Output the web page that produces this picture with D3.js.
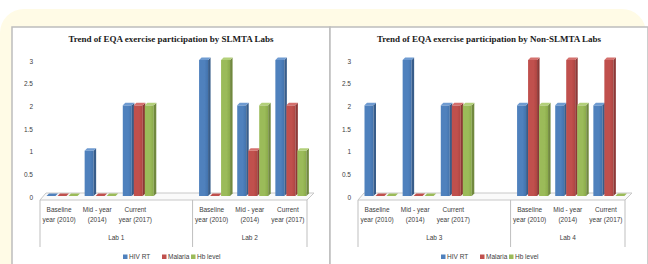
<!DOCTYPE html>
<html>
<head>
<meta charset="utf-8">
<script src="https://cdnjs.cloudflare.com/ajax/libs/d3/7.8.5/d3.min.js"></script>
<style>
    html, body { margin: 0; padding: 0; background: #fff; }
    svg { display: block; }
</style>
</head>
<body>
<svg id="graph" width="648" height="264"></svg>
<script>
    'use strict';

    // data
    var periods = [["Baseline", "year (2010)"], ["Mid - year", "(2014)"], ["Current", "year (2017)"]];
    var series = ["HIV RT", "Malaria", "Hb level"];
    var yTicks = [0, 0.5, 1, 1.5, 2, 2.5, 3];

    var slmtaLabs = ["Lab 1", "Lab 2"];
    var slmtaHivRt = [0, 1, 2, 3, 2, 3];
    var slmtaMalaria = [0, 0, 2, 0, 1, 2];
    var slmtaHb = [0, 0, 2, 3, 2, 1];

    var nonSlmtaLabs = ["Lab 3", "Lab 4"];
    var nonSlmtaHivRt = [2, 3, 2, 2, 2, 2];
    var nonSlmtaMalaria = [0, 0, 2, 3, 3, 3];
    var nonSlmtaHb = [0, 0, 2, 2, 2, 0];

    var colors = ["#4f81bd", "#c0504d", "#9bbb59"],
        darks = ["#4373ad", "#ae4542", "#8aaa4a"],
        sides = ["#385d8a", "#8c3836", "#71893f"],
        tops = ["#6f9bd1", "#d4706d", "#b3d07a"];

    var svg = d3.select("#graph");

    // gradients for the front faces
    var defs = svg.append("defs");
    colors.forEach(function (c, i) {
        var grad = defs.append("linearGradient")
            .attr("id", "front" + i)
            .attr("x1", "0%").attr("x2", "100%")
            .attr("y1", "0%").attr("y2", "0%");
        grad.append("stop").attr("offset", "0%").attr("stop-color", c);
        grad.append("stop").attr("offset", "60%").attr("stop-color", c);
        grad.append("stop").attr("offset", "100%").attr("stop-color", darks[i]);
    });

    // cream page background
    svg.append("rect")
        .attr("x", 0).attr("y", 9)
        .attr("width", 646).attr("height", 320)
        .attr("rx", 24)
        .attr("fill", "#fffbe6");

    var sans = "'Liberation Sans', Arial, sans-serif";

    function drawPanel(offsetX, title, labs, values) {
        var g = svg.append("g").attr("transform", "translate(" + offsetX + ",0)");

        g.append("rect")
            .attr("x", 12).attr("y", 27)
            .attr("width", 318).attr("height", 260)
            .attr("fill", "#fff")
            .attr("stroke", "#bdbdbd")
            .attr("stroke-width", 1.5);

        g.append("text")
            .attr("x", 171).attr("y", 42)
            .attr("text-anchor", "middle")
            .style("font-family", "'Liberation Serif', 'Times New Roman', serif")
            .style("font-weight", "bold")
            .style("font-size", "9px")
            .attr("fill", "#1a1a1a")
            .text(title);

        // slots: 3 periods per lab, one blank slot after the first lab
        var slots = [];
        labs.forEach(function (lab, li) {
            periods.forEach(function (p, pi) { slots.push(lab + "|" + pi); });
            if (li === 0) slots.push(lab + "|gap");
        });

        var x = d3.scaleBand().domain(slots).range([40, 307]);
        var y = d3.scaleLinear().domain([0, 3]).range([196, 60]);
        var s = d3.scaleBand().domain(series).range([6.5, 39.5]);
        var d = 2.5, barW = 9;

        // floor
        g.append("path")
            .attr("d", "M40,200 L307,200 L314,193 L46,193 Z")
            .attr("fill", "#fafafa")
            .attr("stroke", "#c8c8c8")
            .attr("stroke-width", 1);

        // y labels
        g.append("g").selectAll("text")
            .data(yTicks)
            .enter().append("text")
            .attr("x", 33)
            .attr("y", function (v) { return y(v) + 1.5; })
            .attr("dy", "0.35em")
            .attr("text-anchor", "end")
            .style("font-family", sans)
            .style("font-size", "6.5px")
            .attr("fill", "#404040")
            .text(function (v) { return v; });

        // bars
        var bars = [];
        labs.forEach(function (lab, li) {
            periods.forEach(function (p, pi) {
                series.forEach(function (name, si) {
                    bars.push({ slot: lab + "|" + pi, series: name, si: si, value: values[si][li * 3 + pi] });
                });
            });
        });

        var bar = g.append("g").selectAll("g")
            .data(bars)
            .enter().append("g");

        bar.each(function (b) {
            var el = d3.select(this);
            var x0 = x(b.slot) + s(b.series), x1 = x0 + barW;
            var yb = y(0), yt = y(b.value);
            if (b.value > 0) {
                el.append("rect")
                    .attr("x", x0).attr("y", yt)
                    .attr("width", barW).attr("height", yb - yt)
                    .attr("fill", "url(#front" + b.si + ")");
                el.append("path")
                    .attr("d", "M" + x1 + "," + yt + " L" + (x1 + d) + "," + (yt - d) +
                        " L" + (x1 + d) + "," + (yb - d) + " L" + x1 + "," + yb + " Z")
                    .attr("fill", sides[b.si]);
            }
            el.append("path")
                .attr("d", "M" + x0 + "," + yt + " L" + (x0 + d) + "," + (yt - d) +
                    " L" + (x1 + d) + "," + (yt - d) + " L" + x1 + "," + yt + " Z")
                .attr("fill", b.value > 0 ? tops[b.si] : colors[b.si]);
        });

        // category axis: dividers and labels
        var bounds = [40, x(labs[1] + "|0"), 307];
        g.append("g").selectAll("line")
            .data(bounds)
            .enter().append("line")
            .attr("x1", function (v) { return v; })
            .attr("x2", function (v) { return v; })
            .attr("y1", 200).attr("y2", 247)
            .attr("stroke", "#bfbfbf")
            .attr("stroke-width", 1);

        var cats = [];
        labs.forEach(function (lab) {
            periods.forEach(function (p, pi) { cats.push({ slot: lab + "|" + pi, lines: p }); });
        });

        var cat = g.append("g").selectAll("text")
            .data(cats)
            .enter().append("text")
            .attr("text-anchor", "middle")
            .style("font-family", sans)
            .style("font-size", "6.5px")
            .attr("fill", "#404040");

        cat.selectAll("tspan")
            .data(function (c) {
                return c.lines.map(function (t) { return { t: t, cx: x(c.slot) + x.bandwidth() / 2 }; });
            })
            .enter().append("tspan")
            .attr("x", function (t) { return t.cx; })
            .attr("y", function (t, i) { return 212 + i * 9.5; })
            .text(function (t) { return t.t; });

        g.append("g").selectAll("text")
            .data(labs)
            .enter().append("text")
            .attr("x", function (lab, i) { return (bounds[i] + bounds[i + 1]) / 2; })
            .attr("y", 240)
            .attr("text-anchor", "middle")
            .style("font-family", sans)
            .style("font-size", "6.5px")
            .attr("fill", "#404040")
            .text(function (lab) { return lab; });

        // legend
        var legendX = [123, 162, 191];
        var legend = g.append("g").selectAll("g")
            .data(series)
            .enter().append("g")
            .attr("transform", function (n, i) { return "translate(" + legendX[i] + ",257)"; });

        legend.append("rect")
            .attr("x", 0).attr("y", -2.5)
            .attr("width", 4.5).attr("height", 4.5)
            .attr("fill", function (n, i) { return colors[i]; });

        legend.append("text")
            .attr("x", 6)
            .attr("dy", "0.35em")
            .style("font-family", sans)
            .style("font-size", "6.5px")
            .attr("fill", "#404040")
            .text(function (n) { return n; });
    }

    drawPanel(0, "Trend of EQA exercise participation  by SLMTA Labs", slmtaLabs,
        [slmtaHivRt, slmtaMalaria, slmtaHb]);
    drawPanel(318, "Trend of EQA exercise participation  by Non-SLMTA Labs", nonSlmtaLabs,
        [nonSlmtaHivRt, nonSlmtaMalaria, nonSlmtaHb]);
</script>
</body>
</html>
